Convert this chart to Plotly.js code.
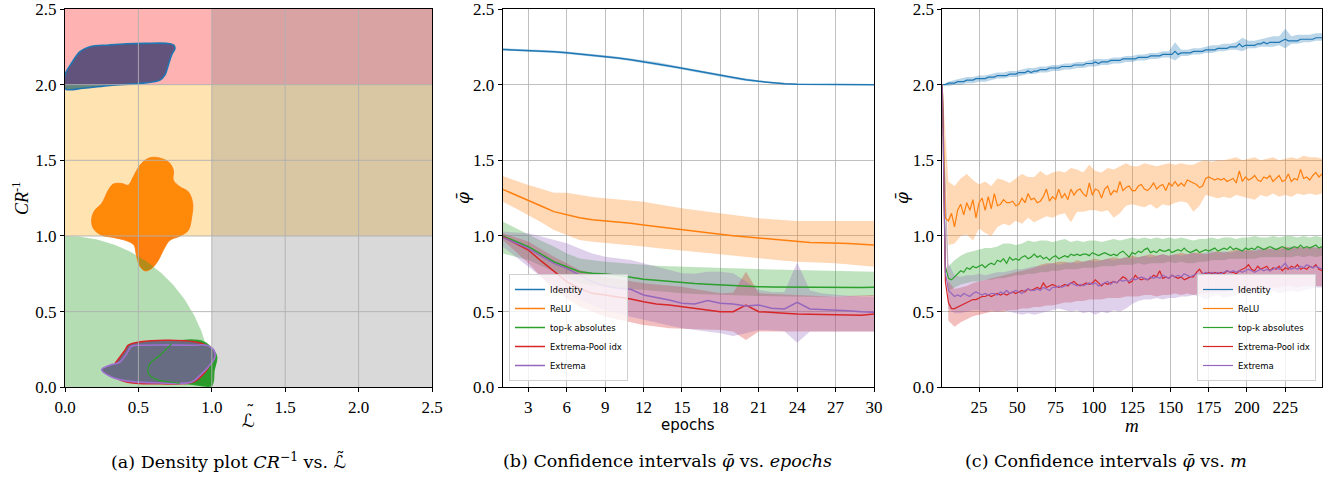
<!DOCTYPE html>
<html><head><meta charset="utf-8">
<script src="https://cdn.plot.ly/plotly-3.0.1.min.js"></script>
<style>html,body{margin:0;padding:0;background:#fff}#chart{width:1340px;height:478px}</style>
</head><body><div id="chart"></div>
<script>
// ---------------- names / colours ----------------
const seriesNames = ['Identity', 'ReLU', 'top-k absolutes', 'Extrema-Pool idx', 'Extrema'];
const seriesColors = ['#1f77b4', '#ff7f0e', '#2ca02c', '#d62728', '#9467bd'];

// ---------------- panel (a) ----------------
const gridValsA = [0.5, 1.0, 1.5, 2.0];
const regionX0 = [0, 0, 1];          // red band, orange band, grey band
const regionX1 = [2.5, 2.5, 2.5];
const regionY0 = [2, 1, 0];
const regionY1 = [2.5, 2, 2.5];
const regionColors = ['rgba(255,0,0,0.3)', 'rgba(255,165,0,0.3)', 'rgba(128,128,128,0.3)'];
const goodRadius = 1.0;

const identityBlobX = [0.00, 0.05, 0.102, 0.17, 0.30, 0.42, 0.55, 0.693, 0.74, 0.749, 0.727, 0.704, 0.681, 0.647, 0.533, 0.307, 0.125, 0.00];
const identityBlobY = [2.065, 2.15, 2.218, 2.251, 2.262, 2.270, 2.273, 2.273, 2.262, 2.240, 2.198, 2.130, 2.065, 2.030, 2.010, 1.995, 1.976, 1.973];

const reluBlobX = [0.625, 0.704, 0.738, 0.738, 0.783, 0.84, 0.87, 0.863, 0.84, 0.783, 0.715, 0.67, 0.636, 0.59, 0.545, 0.506, 0.484, 0.47, 0.42, 0.329, 0.25, 0.193, 0.182, 0.204, 0.25, 0.295, 0.329, 0.386, 0.431, 0.465, 0.511, 0.567];
const reluBlobY = [1.519, 1.49, 1.435, 1.369, 1.325, 1.292, 1.215, 1.126, 1.038, 0.999, 0.972, 0.906, 0.84, 0.785, 0.769, 0.807, 0.884, 0.939, 0.968, 0.99, 1.005, 1.05, 1.116, 1.171, 1.215, 1.303, 1.343, 1.347, 1.336, 1.391, 1.468, 1.513];

const topkBlobX = [0.727, 0.829, 0.942, 1.01, 1.033, 1.015, 0.999, 0.92, 0.874, 0.783, 0.715, 0.624, 0.568, 0.579, 0.647];
const topkBlobY = [0.289, 0.311, 0.300, 0.245, 0.200, 0.112, 0.013, 0.013, 0.020, 0.028, 0.035, 0.051, 0.091, 0.157, 0.212];

const poolBlobX = [0.431, 0.511, 0.715, 0.92, 0.988, 0.999, 0.954, 0.874, 0.647, 0.42, 0.329, 0.329, 0.375, 0.409];
const poolBlobY = [0.278, 0.300, 0.311, 0.293, 0.256, 0.190, 0.101, 0.035, 0.024, 0.035, 0.079, 0.134, 0.200, 0.245];

const extremaBlobX = [0.25, 0.307, 0.375, 0.42, 0.454, 0.533, 0.874, 0.965, 1.015, 1.022, 0.976, 0.92, 0.863, 0.647, 0.397, 0.307];
const extremaBlobY = [0.117, 0.146, 0.167, 0.222, 0.271, 0.278, 0.278, 0.278, 0.245, 0.200, 0.134, 0.079, 0.035, 0.028, 0.046, 0.073];

// ---------------- panel (b) : epochs ----------------
const epochs = [1,2,3,4,5,6,7,8,9,10,11,12,13,14,15,16,17,18,19,20,21,22,23,24,25,26,27,28,29,30];
const epochTicks = [3,6,9,12,15,18,21,24,27,30];
const identityB = [2.233,2.230,2.226,2.222,2.217,2.211,2.203,2.195,2.186,2.176,2.165,2.153,2.139,2.124,2.109,2.093,2.076,2.060,2.045,2.032,2.022,2.013,2.006,2.002,2.001,2.000,2.000,2.000,2.000,2.000];
const identityBHi = [2.241,2.238,2.234,2.230,2.225,2.219,2.212,2.204,2.195,2.185,2.174,2.162,2.149,2.134,2.119,2.103,2.086,2.070,2.054,2.040,2.029,2.019,2.011,2.006,2.004,2.003,2.003,2.003,2.003,2.003];
const identityBLo = [2.225,2.222,2.218,2.214,2.209,2.203,2.195,2.187,2.178,2.168,2.157,2.145,2.131,2.115,2.100,2.084,2.067,2.051,2.037,2.025,2.016,2.008,2.002,1.998,1.998,1.997,1.997,1.997,1.997,1.997];
const reluB = [1.308,1.273,1.238,1.198,1.161,1.143,1.120,1.108,1.101,1.095,1.084,1.073,1.062,1.051,1.040,1.031,1.021,1.011,1.001,0.993,0.985,0.978,0.970,0.963,0.957,0.956,0.954,0.950,0.945,0.940];
const reluBHi = [1.396,1.365,1.337,1.312,1.286,1.286,1.271,1.258,1.249,1.242,1.234,1.227,1.212,1.197,1.183,1.172,1.161,1.150,1.139,1.128,1.117,1.111,1.105,1.099,1.099,1.099,1.099,1.099,1.099,1.099];
const reluBLo = [1.227,1.183,1.139,1.090,1.040,1.005,0.974,0.962,0.952,0.945,0.937,0.930,0.921,0.912,0.903,0.895,0.887,0.879,0.870,0.861,0.852,0.845,0.837,0.830,0.826,0.823,0.819,0.812,0.805,0.797];
const topkB = [1.000,0.965,0.930,0.880,0.830,0.797,0.764,0.753,0.749,0.740,0.727,0.714,0.707,0.699,0.692,0.686,0.681,0.676,0.672,0.668,0.665,0.663,0.662,0.661,0.660,0.659,0.659,0.659,0.660,0.661];
const topkBHi = [1.095,1.051,1.007,0.968,0.930,0.885,0.852,0.840,0.830,0.823,0.815,0.808,0.804,0.800,0.797,0.793,0.790,0.786,0.784,0.782,0.780,0.778,0.777,0.775,0.774,0.773,0.771,0.769,0.766,0.764];
const topkBLo = [0.885,0.863,0.841,0.800,0.764,0.725,0.687,0.675,0.665,0.658,0.650,0.643,0.636,0.628,0.621,0.617,0.614,0.610,0.608,0.606,0.604,0.602,0.600,0.599,0.599,0.599,0.599,0.600,0.602,0.604];
const poolB = [0.996,0.950,0.907,0.835,0.764,0.698,0.654,0.621,0.610,0.599,0.584,0.566,0.551,0.544,0.533,0.522,0.511,0.500,0.500,0.544,0.500,0.493,0.489,0.485,0.482,0.481,0.480,0.478,0.476,0.485];
const poolBHi = [1.018,0.990,0.963,0.913,0.863,0.819,0.775,0.753,0.731,0.716,0.701,0.687,0.680,0.672,0.665,0.650,0.636,0.621,0.625,0.764,0.621,0.618,0.614,0.610,0.606,0.603,0.599,0.603,0.606,0.610];
const poolBLo = [0.974,0.897,0.819,0.731,0.643,0.588,0.533,0.500,0.467,0.448,0.430,0.412,0.401,0.390,0.385,0.383,0.381,0.379,0.368,0.313,0.368,0.368,0.368,0.368,0.368,0.368,0.368,0.368,0.368,0.368];
const extremaB = [0.991,0.955,0.918,0.868,0.819,0.786,0.742,0.698,0.670,0.654,0.648,0.610,0.593,0.577,0.555,0.551,0.573,0.555,0.551,0.537,0.544,0.522,0.518,0.562,0.518,0.515,0.511,0.506,0.500,0.496];
const extremaBHi = [1.029,1.024,1.018,0.996,0.974,0.952,0.918,0.885,0.863,0.852,0.841,0.819,0.797,0.775,0.753,0.750,0.764,0.764,0.753,0.700,0.643,0.630,0.630,0.824,0.640,0.620,0.610,0.605,0.600,0.599];
const extremaBLo = [0.930,0.864,0.797,0.731,0.665,0.621,0.577,0.544,0.511,0.489,0.467,0.445,0.427,0.408,0.390,0.379,0.368,0.357,0.339,0.357,0.379,0.375,0.370,0.295,0.368,0.368,0.368,0.368,0.368,0.368];

// ---------------- panel (c) : m ----------------
const mTicks = [25,50,75,100,125,150,175,200,225];
const mLine = []; for (let m = 1; m <= 249; m += 2) mLine.push(m);   // sampling grid of the lines
const mBand = []; for (let m = 1; m <= 249; m += 4) mBand.push(m);   // sampling grid of the bands

const identityC = [2.00,2.00,2.01,2.01,2.01,2.02,2.02,2.02,2.03,2.03, 2.03,2.04,2.04,2.04,2.04,2.05,2.05,2.05,2.06,2.06, 2.06,2.06,2.07,2.07,2.07,2.08,2.08,2.08,2.09,2.08, 2.09,2.09,2.10,2.10,2.10,2.11,2.11,2.11,2.11,2.12, 2.12,2.12,2.12,2.13,2.13,2.13,2.13,2.14,2.14,2.14, 2.15,2.14,2.15,2.15,2.15,2.16,2.16,2.16,2.16,2.17, 2.17,2.17,2.17,2.17,2.18,2.18,2.18,2.18,2.19,2.19, 2.19,2.19,2.20,2.20,2.20,2.20,2.22,2.20,2.21,2.21, 2.21,2.21,2.22,2.22,2.22,2.22,2.23,2.23,2.23,2.23, 2.24,2.24,2.24,2.24,2.25,2.25,2.25,2.27,2.25,2.26, 2.26,2.26,2.26,2.27,2.27,2.28,2.27,2.28,2.28,2.28, 2.28,2.29,2.30,2.29,2.29,2.29,2.29,2.30,2.30,2.30, 2.30,2.30,2.31,2.31,2.31];
const reluC = [2.00,1.12,1.10,1.15,1.06,1.17,1.21,1.14,1.22,1.17, 1.24,1.12,1.22,1.25,1.17,1.26,1.18,1.28,1.20,1.21, 1.24,1.22,1.22,1.23,1.20,1.21,1.25,1.22,1.28,1.24, 1.25,1.22,1.23,1.26,1.31,1.23,1.26,1.24,1.31,1.25, 1.28,1.24,1.31,1.27,1.30,1.31,1.28,1.26,1.35,1.27, 1.31,1.30,1.25,1.31,1.33,1.27,1.30,1.29,1.36,1.30, 1.32,1.33,1.30,1.30,1.33,1.34,1.31,1.30,1.32,1.35, 1.31,1.33,1.34,1.30,1.35,1.33,1.36,1.33,1.35,1.33, 1.37,1.36,1.35,1.34,1.32,1.33,1.38,1.39,1.38,1.37, 1.38,1.37,1.38,1.36,1.37,1.38,1.35,1.43,1.36,1.39, 1.37,1.38,1.40,1.37,1.36,1.39,1.38,1.40,1.36,1.38, 1.40,1.36,1.37,1.41,1.36,1.38,1.37,1.44,1.38,1.39, 1.37,1.40,1.42,1.39,1.41];
const topkC = [2.00,0.80,0.72,0.71,0.73,0.75,0.77,0.76,0.79,0.78, 0.80,0.79,0.80,0.81,0.79,0.81,0.82,0.81,0.84,0.83, 0.85,0.82,0.86,0.84,0.85,0.84,0.86,0.87,0.85,0.86, 0.88,0.86,0.87,0.85,0.86,0.84,0.86,0.87,0.85,0.86, 0.87,0.86,0.88,0.87,0.88,0.87,0.88,0.88,0.87,0.89, 0.88,0.87,0.88,0.89,0.88,0.87,0.88,0.87,0.89,0.90, 0.88,0.86,0.89,0.88,0.90,0.89,0.91,0.92,0.89,0.90, 0.89,0.91,0.90,0.90,0.91,0.89,0.90,0.91,0.90,0.92, 0.90,0.89,0.90,0.91,0.89,0.90,0.91,0.90,0.91,0.92, 0.90,0.91,0.92,0.91,0.93,0.91,0.92,0.91,0.90,0.92, 0.91,0.92,0.91,0.93,0.92,0.91,0.92,0.93,0.92,0.91, 0.92,0.93,0.92,0.91,0.92,0.93,0.92,0.94,0.92,0.93, 0.92,0.93,0.94,0.92,0.93];
const poolC = [2.00,0.70,0.56,0.52,0.52,0.53,0.54,0.55,0.56,0.57, 0.58,0.58,0.59,0.60,0.60,0.61,0.60,0.61,0.62,0.61, 0.62,0.61,0.62,0.63,0.62,0.63,0.64,0.63,0.65,0.64, 0.65,0.66,0.65,0.69,0.66,0.67,0.68,0.67,0.66,0.67, 0.68,0.67,0.69,0.70,0.68,0.67,0.68,0.69,0.68,0.69, 0.71,0.69,0.67,0.69,0.68,0.69,0.70,0.69,0.71,0.73, 0.72,0.69,0.70,0.74,0.72,0.71,0.72,0.71,0.72,0.74, 0.73,0.77,0.72,0.73,0.72,0.74,0.73,0.72,0.73,0.71, 0.72,0.73,0.73,0.76,0.78,0.75,0.75,0.76,0.75,0.76, 0.75,0.76,0.75,0.77,0.76,0.76,0.75,0.77,0.78,0.79, 0.81,0.78,0.77,0.80,0.78,0.79,0.80,0.77,0.79,0.78, 0.80,0.77,0.79,0.78,0.80,0.79,0.81,0.78,0.79,0.78, 0.80,0.79,0.81,0.78,0.77];
const extremaC = [2.00,0.76,0.64,0.62,0.60,0.61,0.60,0.62,0.61,0.60, 0.62,0.63,0.62,0.61,0.62,0.61,0.62,0.62,0.61,0.63, 0.62,0.64,0.62,0.63,0.64,0.63,0.62,0.64,0.65,0.64, 0.64,0.65,0.64,0.66,0.65,0.64,0.66,0.66,0.67,0.66, 0.67,0.68,0.69,0.68,0.67,0.68,0.67,0.68,0.69,0.68, 0.69,0.67,0.68,0.69,0.70,0.68,0.70,0.69,0.71,0.70, 0.71,0.70,0.72,0.71,0.72,0.73,0.72,0.71,0.73,0.72, 0.73,0.72,0.74,0.73,0.72,0.74,0.73,0.74,0.73,0.75, 0.74,0.73,0.74,0.75,0.74,0.75,0.76,0.75,0.76,0.75, 0.76,0.75,0.76,0.77,0.76,0.77,0.76,0.77,0.76,0.77, 0.78,0.77,0.76,0.77,0.78,0.77,0.78,0.77,0.78,0.79, 0.78,0.80,0.82,0.79,0.78,0.79,0.78,0.80,0.79,0.81, 0.80,0.79,0.80,0.79,0.78];

const identityCLo = [2.00,1.99,2.00,2.00,2.01,2.01,2.02,2.02,2.03,2.04, 2.04,2.05,2.05,2.06,2.07,2.07,2.08,2.08,2.09,2.09, 2.10,2.10,2.11,2.11,2.12,2.12,2.13,2.13,2.14,2.14, 2.15,2.15,2.16,2.16,2.17,2.17,2.18,2.18,2.16,2.19, 2.19,2.20,2.20,2.21,2.21,2.22,2.22,2.23,2.23,2.22, 2.24,2.24,2.25,2.25,2.25,2.26,2.24,2.27,2.27,2.28, 2.28,2.29,2.29];
const identityCHi = [2.00,2.02,2.03,2.04,2.05,2.05,2.06,2.06,2.07,2.08, 2.08,2.09,2.09,2.10,2.11,2.11,2.12,2.12,2.13,2.13, 2.14,2.14,2.15,2.15,2.16,2.17,2.17,2.17,2.18,2.18, 2.19,2.19,2.20,2.20,2.21,2.21,2.22,2.22,2.28,2.23, 2.23,2.24,2.24,2.25,2.26,2.26,2.27,2.27,2.28,2.31, 2.29,2.29,2.30,2.31,2.32,2.32,2.37,2.32,2.33,2.33, 2.33,2.34,2.34];
const reluCLo = [2.00,0.94,0.95,1.00,1.01,0.97,1.05,1.02,1.00,1.06, 1.08,1.07,1.10,1.08,1.12,1.09,1.11,1.13,1.12,1.14, 1.15,1.09,1.16,1.16,1.17,1.17,1.16,1.17,1.12,1.15, 1.20,1.21,1.20,1.19,1.21,1.18,1.21,1.20,1.22,1.23, 1.22,1.16,1.20,1.27,1.26,1.25,1.26,1.25,1.27,1.26, 1.25,1.24,1.27,1.26,1.28,1.26,1.27,1.26,1.28,1.27, 1.28,1.27,1.28];
const reluCHi = [2.00,1.36,1.33,1.38,1.41,1.37,1.34,1.36,1.33,1.38, 1.37,1.35,1.38,1.41,1.39,1.39,1.43,1.40,1.42,1.43, 1.42,1.45,1.44,1.42,1.47,1.43,1.42,1.45,1.44,1.46, 1.48,1.46,1.46,1.48,1.47,1.46,1.47,1.48,1.47,1.48, 1.47,1.47,1.49,1.50,1.49,1.50,1.50,1.51,1.52,1.50, 1.51,1.52,1.50,1.51,1.52,1.50,1.51,1.52,1.51,1.53, 1.52,1.52,1.51];
const topkCLo = [2.00,0.64,0.66,0.68,0.69,0.70,0.70,0.71,0.71,0.72, 0.72,0.73,0.74,0.74,0.75,0.75,0.76,0.76,0.77,0.77, 0.78,0.78,0.78,0.79,0.79,0.79,0.80,0.80,0.80,0.81, 0.81,0.81,0.82,0.81,0.82,0.82,0.82,0.83,0.82,0.83, 0.82,0.82,0.83,0.83,0.84,0.84,0.84,0.85,0.85,0.85, 0.85,0.85,0.86,0.86,0.86,0.86,0.86,0.86,0.87,0.86, 0.87,0.86,0.87];
const topkCHi = [2.00,0.80,0.84,0.87,0.89,0.90,0.91,0.92,0.92,0.93, 0.95,0.95,0.94,0.95,0.97,0.96,0.97,0.97,0.96,0.97, 0.98,0.96,0.97,0.96,0.97,0.97,0.96,0.97,0.98,0.97, 0.98,0.99,0.98,0.99,0.98,0.99,0.98,0.99,0.98,0.99, 0.98,0.97,0.98,0.98,0.99,0.98,0.99,0.99,0.98,0.99, 0.99,1.00,0.99,0.99,1.00,0.99,1.00,1.00,0.99,1.00, 0.99,1.00,0.99];
const poolCLo = [2.00,0.44,0.40,0.43,0.45,0.47,0.48,0.49,0.50,0.50, 0.50,0.51,0.51,0.52,0.52,0.53,0.53,0.54,0.54,0.55, 0.56,0.56,0.57,0.57,0.58,0.58,0.58,0.59,0.59,0.59, 0.60,0.60,0.60,0.61,0.61,0.60,0.61,0.61,0.62,0.61, 0.62,0.61,0.62,0.62,0.63,0.63,0.63,0.64,0.64,0.63, 0.64,0.65,0.65,0.65,0.66,0.66,0.67,0.67,0.66,0.67, 0.67,0.67,0.67];
const poolCHi = [2.00,0.70,0.65,0.66,0.67,0.69,0.70,0.71,0.72,0.73, 0.74,0.75,0.76,0.77,0.78,0.79,0.81,0.82,0.82,0.83, 0.83,0.82,0.84,0.83,0.84,0.85,0.84,0.85,0.86,0.85, 0.86,0.87,0.86,0.87,0.88,0.87,0.88,0.87,0.88,0.89, 0.88,0.89,0.89,0.88,0.89,0.90,0.89,0.90,0.91,0.90, 0.91,0.90,0.91,0.92,0.91,0.92,0.93,0.92,0.93,0.92, 0.93,0.92,0.93];
const extremaCLo = [2.00,0.52,0.49,0.49,0.50,0.51,0.51,0.50,0.51,0.50, 0.51,0.50,0.49,0.48,0.49,0.48,0.49,0.50,0.51,0.52, 0.51,0.50,0.51,0.49,0.50,0.48,0.50,0.49,0.51,0.50, 0.52,0.55,0.57,0.58,0.58,0.59,0.58,0.59,0.59,0.60, 0.60,0.61,0.60,0.58,0.60,0.61,0.59,0.60,0.61,0.62, 0.61,0.62,0.61,0.63,0.64,0.62,0.63,0.64,0.63,0.64, 0.65,0.66,0.66];
const extremaCHi = [2.00,0.82,0.74,0.73,0.74,0.74,0.75,0.74,0.75,0.76, 0.76,0.77,0.78,0.78,0.79,0.80,0.80,0.81,0.82,0.81, 0.82,0.83,0.82,0.83,0.84,0.83,0.84,0.85,0.84,0.85, 0.86,0.85,0.86,0.87,0.86,0.87,0.88,0.87,0.88,0.87, 0.88,0.89,0.88,0.89,0.90,0.89,0.90,0.89,0.90,0.91, 0.90,0.91,0.92,0.91,0.92,0.91,0.92,0.93,0.92,0.93, 0.92,0.93,0.92];

const yTicks = [0, 0.5, 1.0, 1.5, 2.0, 2.5];
const xTicksA = [0, 0.5, 1.0, 1.5, 2.0, 2.5];

// ---------------- helpers ----------------
function rgba(hex, a) {
  const n = parseInt(hex.slice(1), 16);
  return 'rgba(' + ((n >> 16) & 255) + ',' + ((n >> 8) & 255) + ',' + (n & 255) + ',' + a + ')';
}
function band(x, lo, hi, color, xa, ya) {
  return {x: x.concat(x.slice().reverse()), y: hi.concat(lo.slice().reverse()),
    type: 'scatter', mode: 'lines', fill: 'toself', fillcolor: rgba(color, 0.3),
    line: {width: 0}, hoverinfo: 'skip', showlegend: false, xaxis: xa, yaxis: ya};
}
function line(x, y, i, xa, ya, leg, w) {
  return {x: x, y: y, type: 'scatter', mode: 'lines', name: seriesNames[i],
    line: {color: seriesColors[i], width: w}, xaxis: xa, yaxis: ya, legend: leg, showlegend: true};
}
function blob(x, y, fill, lineColor, lw) {
  return {x: x.concat([x[0]]), y: y.concat([y[0]]), type: 'scatter', mode: 'lines',
    fill: fill ? 'toself' : 'none', fillcolor: fill || 'rgba(0,0,0,0)',
    line: {color: lineColor || 'rgba(0,0,0,0)', width: lw || 0, shape: 'spline', smoothing: 1},
    hoverinfo: 'skip', showlegend: false, xaxis: 'x', yaxis: 'y'};
}

const traces = [];
// --- panel a ---
traces.push(blob(identityBlobX, identityBlobY, seriesColors[0]));
traces.push(blob(reluBlobX, reluBlobY, seriesColors[1]));
for (let i = 0; i < regionX0.length; i++) {
  traces.push({x: [regionX0[i], regionX1[i], regionX1[i], regionX0[i], regionX0[i]],
    y: [regionY0[i], regionY0[i], regionY1[i], regionY1[i], regionY0[i]],
    type: 'scatter', mode: 'lines', fill: 'toself', fillcolor: regionColors[i],
    line: {width: 0}, hoverinfo: 'skip', showlegend: false, xaxis: 'x', yaxis: 'y'});
}
(function () {
  const cx = [0], cy = [0];
  for (let k = 0; k <= 90; k++) {
    const t = k * Math.PI / 180;
    cx.push(goodRadius * Math.cos(t)); cy.push(goodRadius * Math.sin(t));
  }
  cx.push(0); cy.push(0);
  traces.push({x: cx, y: cy, type: 'scatter', mode: 'lines', fill: 'toself',
    fillcolor: 'rgba(44,160,44,0.355)', line: {width: 0}, hoverinfo: 'skip',
    showlegend: false, xaxis: 'x', yaxis: 'y'});
})();
traces.push(blob(identityBlobX, identityBlobY, null, seriesColors[0], 1.6));
traces.push(blob(reluBlobX, reluBlobY, null, 'rgba(255,127,14,0.8)', 1.0));
traces.push(blob(topkBlobX, topkBlobY, '#2a9a2a', '#2ca02c', 1.5));
traces.push(blob(poolBlobX, poolBlobY, 'rgb(103,108,130)', seriesColors[3], 1.6));
traces.push(blob(extremaBlobX, extremaBlobY, 'rgb(103,108,130)', '#a070d0', 1.6));
// inner part of top-k contour seen through the fill
traces.push({x: topkBlobX.slice(9).concat([topkBlobX[0]]), y: topkBlobY.slice(9).concat([topkBlobY[0]]),
  type: 'scatter', mode: 'lines', line: {color: '#2ca02c', width: 1.2, shape: 'spline'},
  hoverinfo: 'skip', showlegend: false, xaxis: 'x', yaxis: 'y'});

// --- panel b ---
const bMeans = [identityB, reluB, topkB, poolB, extremaB];
const bLo = [identityBLo, reluBLo, topkBLo, poolBLo, extremaBLo];
const bHi = [identityBHi, reluBHi, topkBHi, poolBHi, extremaBHi];
for (let i = 0; i < 5; i++) traces.push(band(epochs, bLo[i], bHi[i], seriesColors[i], 'x2', 'y2'));
for (let i = 0; i < 5; i++) traces.push(line(epochs, bMeans[i], i, 'x2', 'y2', 'legend', 1.5));

// --- panel c ---
const cMeans = [identityC, reluC, topkC, poolC, extremaC];
const cLo = [identityCLo, reluCLo, topkCLo, poolCLo, extremaCLo];
const cHi = [identityCHi, reluCHi, topkCHi, poolCHi, extremaCHi];
for (let i = 0; i < 5; i++) traces.push(band(mBand, cLo[i], cHi[i], seriesColors[i], 'x3', 'y3'));
for (let i = 0; i < 5; i++) traces.push(line(mLine, cMeans[i], i, 'x3', 'y3', 'legend2', 1.2));

// ---------------- layout ----------------
const W = 1340, H = 478;
const px = v => v / W, py = v => (H - v) / H;
const SERIF = 'Liberation Serif, DejaVu Serif, serif';
const DSERIF = 'DejaVu Serif, serif';
const axBase = {showline: true, mirror: true, linecolor: '#000', linewidth: 1, ticks: 'outside',
  ticklen: 4, tickwidth: 1, tickcolor: '#000', showgrid: true, gridcolor: '#b0b0b0', gridwidth: 0.8,
  zeroline: false, fixedrange: true, ticklabeloverflow: 'allow',
  tickfont: {family: SERIF, size: 17, color: '#000'}};
const yDom = [py(387.3), py(9)];

const shapes = [];
gridValsA.forEach(v => {
  shapes.push({type: 'line', xref: 'x', yref: 'y', x0: v, x1: v, y0: 0, y1: 2.5, layer: 'above', line: {color: '#b0b0b0', width: 0.9}});
  shapes.push({type: 'line', xref: 'x', yref: 'y', x0: 0, x1: 2.5, y0: v, y1: v, layer: 'above', line: {color: '#b0b0b0', width: 0.9}});
});

const legendBase = {bgcolor: 'rgba(255,255,255,0.8)', bordercolor: '#d0d0d0', borderwidth: 1,
  font: {family: 'DejaVu Sans', size: 8.5, color: '#000'}, yanchor: 'bottom', y: py(381), itemwidth: 30, tracegroupgap: 0};

const ann = (text, x, y, size, fam, angle) => ({text: text, x: x, y: y, xref: 'paper', yref: 'paper',
  xanchor: 'center', yanchor: 'middle', showarrow: false, textangle: angle || 0,
  font: {family: fam || SERIF, size: size, color: '#000'}});

const LTILDE = '<span style="font-family:\'DejaVu Sans\'">\u2112\u0303</span>';

const layout = {
  width: W, height: H, margin: {l: 0, r: 0, t: 0, b: 0}, paper_bgcolor: '#fff', plot_bgcolor: 'rgba(0,0,0,0)',
  showlegend: true,
  xaxis: Object.assign({}, axBase, {domain: [px(65), px(432)], range: [0, 2.5], tickvals: xTicksA, tickformat: '.1f', showgrid: false, anchor: 'y'}),
  yaxis: Object.assign({}, axBase, {domain: yDom, range: [0, 2.5], tickvals: yTicks, tickformat: '.1f', showgrid: false, anchor: 'x'}),
  xaxis2: Object.assign({}, axBase, {domain: [px(502.7), px(874)], range: [1, 30], tickvals: epochTicks, anchor: 'y2'}),
  yaxis2: Object.assign({}, axBase, {domain: yDom, range: [0, 2.5], tickvals: yTicks, tickformat: '.1f', anchor: 'x2'}),
  xaxis3: Object.assign({}, axBase, {domain: [px(942.3), px(1322)], range: [1, 249], tickvals: mTicks, anchor: 'y3'}),
  yaxis3: Object.assign({}, axBase, {domain: yDom, range: [0, 2.5], tickvals: yTicks, tickformat: '.1f', anchor: 'x3'}),
  legend: Object.assign({}, legendBase, {x: px(509), xanchor: 'left'}),
  legend2: Object.assign({}, legendBase, {x: px(1316), xanchor: 'right'}),
  shapes: shapes,
  annotations: [
    ann('\u2112', px(248.5), py(421), 18, 'DejaVu Sans'),
    ann('\u02DC', px(250), py(412), 17, 'DejaVu Sans'),
    ann('<i>CR</i><sup>-1</sup>', px(20), py(198), 18, SERIF, -90),
    ann('epochs', px(688.4), py(425), 15, 'DejaVu Sans'),
    ann('<i>\u03C6\u0304</i>', px(463), py(198), 17, DSERIF, -90),
    ann('<i>m</i>', px(1132), py(425), 19),
    ann('<i>\u03C6\u0304</i>', px(902), py(198), 17, DSERIF, -90),
    ann('(a) Density plot <i>CR</i><sup>\u22121</sup> vs. ' + LTILDE, px(228), py(461), 17.5, DSERIF),
    ann('(b) Confidence intervals <i>\u03C6\u0304</i> vs. <i>epochs</i>', px(667), py(461), 17.5, DSERIF),
    ann('(c) Confidence intervals <i>\u03C6\u0304</i> vs. <i>m</i>', px(1106), py(461), 17.5, DSERIF)
  ]
};

Plotly.newPlot('chart', traces, layout, {displayModeBar: false, staticPlot: true});
</script></body></html>
